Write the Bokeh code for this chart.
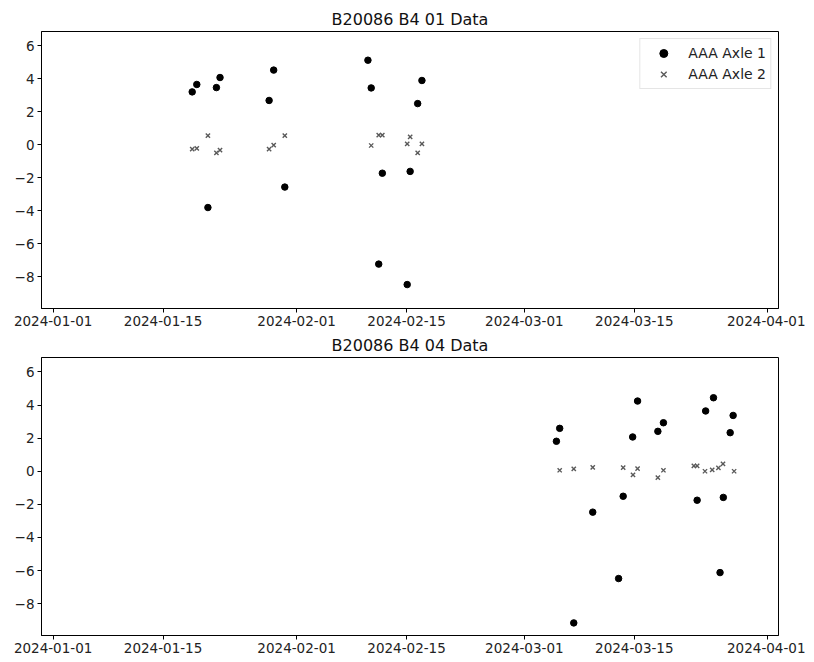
import pandas as pd
from bokeh.plotting import figure
from bokeh.models import (ColumnDataSource, Range1d, FixedTicker,
                          CustomJSTickFormatter, Legend, LegendItem)
from bokeh.layouts import column
from bokeh.embed import file_html
from bokeh.resources import INLINE

# ---------------- data ----------------
titles = ["B20086 B4 01 Data", "B20086 B4 04 Data"]
series_names = ["AAA Axle 1", "AAA Axle 2"]

top_axle1_dates = ["2024-01-18 17:00", "2024-01-19 07:00", "2024-01-20 17:00", "2024-01-21 19:00",
                   "2024-01-22 06:00", "2024-01-28 12:00", "2024-01-29 02:00", "2024-01-30 12:00",
                   "2024-02-10 02:00", "2024-02-10 12:00", "2024-02-11 11:00", "2024-02-11 22:00",
                   "2024-02-15 02:00", "2024-02-15 11:00", "2024-02-16 10:00", "2024-02-16 23:00"]
top_axle1_values = [3.21, 3.66, -3.80, 3.47, 4.08, 2.69, 4.53, -2.56,
                    5.13, 3.45, -7.23, -1.72, -8.47, -1.61, 2.50, 3.90]

top_axle2_dates = ["2024-01-18 17:00", "2024-01-19 07:00", "2024-01-20 17:00", "2024-01-21 19:00",
                   "2024-01-22 06:00", "2024-01-28 12:00", "2024-01-29 02:00", "2024-01-30 12:00",
                   "2024-02-10 12:00", "2024-02-11 11:00", "2024-02-11 22:00",
                   "2024-02-15 02:00", "2024-02-15 11:00", "2024-02-16 10:00", "2024-02-16 23:00"]
top_axle2_values = [-0.26, -0.22, 0.56, -0.48, -0.32, -0.26, -0.02, 0.56,
                    -0.04, 0.59, 0.59, 0.06, 0.48, -0.48, 0.06]

bot_axle1_dates = ["2024-03-05 02:00", "2024-03-05 12:00", "2024-03-07 07:00", "2024-03-09 17:00",
                   "2024-03-13 00:00", "2024-03-13 14:00", "2024-03-14 19:00", "2024-03-15 10:00",
                   "2024-03-18 00:00", "2024-03-18 17:00", "2024-03-23 00:00", "2024-03-24 02:00",
                   "2024-03-25 02:00", "2024-03-25 22:00", "2024-03-26 08:00", "2024-03-27 05:00",
                   "2024-03-27 14:00"]
bot_axle1_values = [1.81, 2.59, -9.16, -2.47, -6.48, -1.51, 2.07, 4.24,
                    2.41, 2.93, -1.75, 3.64, 4.44, -6.12, -1.58, 2.33, 3.37]

bot_axle2_dates = ["2024-03-05 12:00", "2024-03-07 07:00", "2024-03-09 17:00", "2024-03-13 14:00",
                   "2024-03-14 20:00", "2024-03-15 10:00", "2024-03-18 00:00", "2024-03-18 17:00",
                   "2024-03-22 14:00", "2024-03-23 00:00", "2024-03-24 00:00", "2024-03-24 22:00",
                   "2024-03-25 17:00", "2024-03-26 07:00", "2024-03-27 17:00"]
bot_axle2_values = [0.06, 0.14, 0.24, 0.22, -0.22, 0.16, -0.38, 0.06,
                    0.33, 0.33, 0.00, 0.08, 0.20, 0.45, 0.00]

x_tick_labels = ["2024-01-01", "2024-01-15", "2024-02-01", "2024-02-15",
                 "2024-03-01", "2024-03-15", "2024-04-01"]
y_ticks = [-8, -6, -4, -2, 0, 2, 4, 6]

# ---------------- styling ----------------
FONT = "DejaVu Sans"
x_ticks_ms = [pd.Timestamp(t).value / 1e6 for t in x_tick_labels]
DAY_MS = 86400000.0
x_start = pd.Timestamp(x_tick_labels[0]).value / 1e6 - 1.48 * DAY_MS
x_end = pd.Timestamp(x_tick_labels[0]).value / 1e6 + 92.36 * DAY_MS
y_start, y_end = -9.92, 6.87

x_fmt_code = "var d = new Date(tick); return d.toISOString().slice(0, 10);"
y_fmt_code = "return tick.toFixed(0).replace('-', '\u2212');"


def make_fig(title, d1, v1, d2, v2, height, border_top, border_bottom, legend):
    p = figure(width=805, height=height, x_axis_type="datetime",
               output_backend="svg", toolbar_location=None,
               x_range=Range1d(x_start, x_end), y_range=Range1d(y_start, y_end),
               min_border_left=41, min_border_right=27,
               min_border_top=border_top, min_border_bottom=border_bottom)
    p.title.text = title
    p.title.align = "center"
    p.title.text_font = FONT
    p.title.text_font_size = "16px"
    p.title.text_font_style = "normal"
    p.title.text_color = "#111111"
    p.title.standoff = 5
    p.title.offset = 0

    p.xgrid.visible = False
    p.ygrid.visible = False
    p.outline_line_color = "#000000"
    p.outline_line_width = 1
    p.background_fill_color = "white"
    p.border_fill_color = "white"

    for ax in (p.xaxis[0], p.yaxis[0]):
        ax.axis_line_color = "#000000"
        ax.major_tick_line_color = "#000000"
        ax.major_tick_out = 4
        ax.major_tick_in = 0
        ax.minor_tick_out = 0
        ax.minor_tick_in = 0
        ax.major_label_text_font = FONT
        ax.major_label_text_font_size = "13.5px"
        ax.major_label_text_color = "#222222"
        ax.major_label_standoff = 3

    p.xaxis[0].ticker = FixedTicker(ticks=x_ticks_ms)
    p.xaxis[0].formatter = CustomJSTickFormatter(code=x_fmt_code)
    p.yaxis[0].ticker = FixedTicker(ticks=y_ticks)
    p.yaxis[0].formatter = CustomJSTickFormatter(code=y_fmt_code)

    s1 = ColumnDataSource(dict(x=pd.to_datetime(d1), y=v1))
    s2 = ColumnDataSource(dict(x=pd.to_datetime(d2), y=v2))
    r1 = p.scatter("x", "y", source=s1, marker="circle", size=6.5,
                   fill_color="#000000", line_color="#000000")
    r2 = p.scatter("x", "y", source=s2, marker="x", size=6,
                   line_color="#5a5a5a", line_width=1.4)

    if legend:
        lg = Legend(items=[LegendItem(label=series_names[0], renderers=[r1]),
                           LegendItem(label=series_names[1], renderers=[r2])],
                    location="top_right")
        lg.label_text_font = FONT
        lg.label_text_font_size = "14px"
        lg.label_text_color = "#222222"
        lg.border_line_color = "#cccccc"
        lg.border_line_width = 1
        lg.background_fill_alpha = 0.8
        lg.margin = 7
        lg.padding = 4
        lg.spacing = 1
        lg.glyph_width = 38
        lg.glyph_height = 20
        lg.label_height = 20
        lg.label_standoff = 6
        p.add_layout(lg)
    return p


p1 = make_fig(titles[0], top_axle1_dates, top_axle1_values,
              top_axle2_dates, top_axle2_values, 330, 31, 22, True)
p2 = make_fig(titles[1], bot_axle1_dates, bot_axle1_values,
              bot_axle2_dates, bot_axle2_values, 328, 27, 23, False)

layout = column(p1, p2, spacing=0)

with open("out.html", "w") as f:
    f.write(file_html(layout, INLINE))
